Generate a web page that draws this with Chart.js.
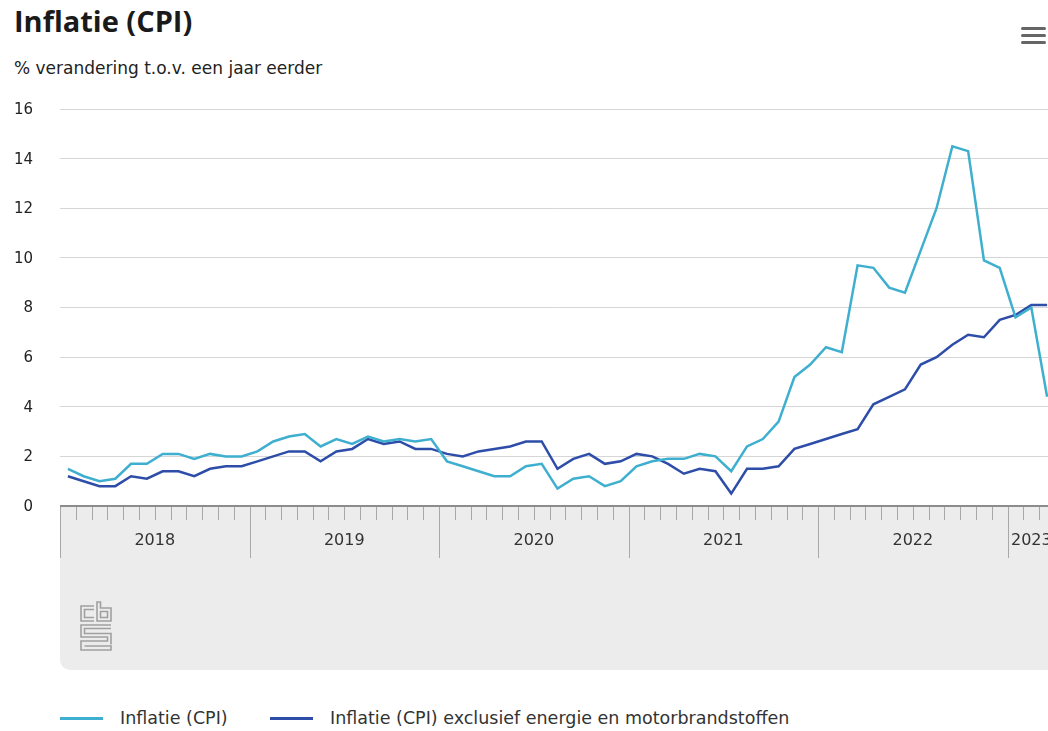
<!DOCTYPE html>
<html>
<head>
<meta charset="utf-8">
<script src="https://cdn.jsdelivr.net/npm/chart.js@4.4.0/dist/chart.umd.min.js"></script>
<style>
  html, body { margin:0; padding:0; background:#fff; width:1048px; height:731px; overflow:hidden; position:relative; font-family:"DejaVu Sans", sans-serif; color:#222; }
  #title { position:absolute; left:14px; top:1px; font-family:"Open Sans", sans-serif; font-size:29px; font-weight:700; line-height:40px; color:#1a1a1a; white-space:nowrap; }
  #subtitle { position:absolute; left:14px; top:56px; font-size:17px; line-height:24px; color:#222; white-space:nowrap; }
  #menu { position:absolute; left:1021px; top:27px; width:25px; height:18px; }
  #menu span { position:absolute; left:0; width:25px; height:3px; background:#666; border-radius:2px; }
  #wrap { position:absolute; left:0; top:95px; width:1062px; height:575px; }
  #logo { position:absolute; left:78px; top:600px; }
  #legend { position:absolute; left:0; top:706px; width:1048px; height:24px; font-size:17.5px; color:#333; }
  .item { position:absolute; top:0; line-height:24px; white-space:nowrap; }
  .swatch { position:absolute; top:11px; height:2.5px; width:43px; }
</style>
</head>
<body>
<div id="title">Inflatie (CPI)</div>
<div id="subtitle">% verandering t.o.v. een jaar eerder</div>
<div id="menu"><span style="top:0"></span><span style="top:7px"></span><span style="top:14px"></span></div>
<div id="wrap"><canvas id="c"></canvas></div>
<svg id="logo" width="36" height="54" viewBox="0 0 36 54">
  <g fill="none" stroke="#a0a0a0" stroke-width="1.6">
    <path d="M16 6 H3 V21 H16 M16 9.5 H6.5 V17.5 H16"/>
    <path d="M19 2 H22.5 V8 H33 V21 H19 Z M22.5 11.5 H29.5 V17.5 H22.5 Z"/>
    <path d="M33 25 H3 V37 H29.5 V41 H3 V50 H33 V46 H6.5 M33 28.5 H6.5 V33.5 H33 V44.5"/>
  </g>
</svg>
<div id="legend">
  <div class="swatch" style="left:60px;background:#3eafcf"></div>
  <div class="item" style="left:120px">Inflatie (CPI)</div>
  <div class="swatch" style="left:270px;background:#2d4da8"></div>
  <div class="item" style="left:330px">Inflatie (CPI) exclusief energie en motorbrandstoffen</div>
</div>
<script>
const months = [
 'jan 2018','feb 2018','mrt 2018','apr 2018','mei 2018','jun 2018','jul 2018','aug 2018','sep 2018','okt 2018','nov 2018','dec 2018',
 'jan 2019','feb 2019','mrt 2019','apr 2019','mei 2019','jun 2019','jul 2019','aug 2019','sep 2019','okt 2019','nov 2019','dec 2019',
 'jan 2020','feb 2020','mrt 2020','apr 2020','mei 2020','jun 2020','jul 2020','aug 2020','sep 2020','okt 2020','nov 2020','dec 2020',
 'jan 2021','feb 2021','mrt 2021','apr 2021','mei 2021','jun 2021','jul 2021','aug 2021','sep 2021','okt 2021','nov 2021','dec 2021',
 'jan 2022','feb 2022','mrt 2022','apr 2022','mei 2022','jun 2022','jul 2022','aug 2022','sep 2022','okt 2022','nov 2022','dec 2022',
 'jan 2023','feb 2023','mrt 2023'
];
const yearLabels = ['2018','2019','2020','2021','2022','2023'];
const yTicks = [0,2,4,6,8,10,12,14,16];

const cpi = [
 1.5,1.2,1.0,1.1,1.7,1.7,2.1,2.1,1.9,2.1,2.0,2.0,
 2.2,2.6,2.8,2.9,2.4,2.7,2.5,2.8,2.6,2.7,2.6,2.7,
 1.8,1.6,1.4,1.2,1.2,1.6,1.7,0.7,1.1,1.2,0.8,1.0,
 1.6,1.8,1.9,1.9,2.1,2.0,1.4,2.4,2.7,3.4,5.2,5.7,
 6.4,6.2,9.7,9.6,8.8,8.6,10.3,12.0,14.5,14.3,9.9,9.6,
 7.6,8.0,4.4
];
const cpiCore = [
 1.2,1.0,0.8,0.8,1.2,1.1,1.4,1.4,1.2,1.5,1.6,1.6,
 1.8,2.0,2.2,2.2,1.8,2.2,2.3,2.7,2.5,2.6,2.3,2.3,
 2.1,2.0,2.2,2.3,2.4,2.6,2.6,1.5,1.9,2.1,1.7,1.8,
 2.1,2.0,1.7,1.3,1.5,1.4,0.5,1.5,1.5,1.6,2.3,2.5,
 2.7,2.9,3.1,4.1,4.4,4.7,5.7,6.0,6.5,6.9,6.8,7.5,
 7.7,8.1,8.1
];

const bandPlugin = {
  id: 'band',
  beforeDraw(chart) {
    const {ctx, chartArea, scales} = chart;
    const x = scales.x;
    const top = chartArea.bottom;
    const bottom = top + 164;
    const left = chartArea.left;
    const right = chart.width;
    const step = x.getPixelForValue(1) - x.getPixelForValue(0);
    ctx.save();
    ctx.fillStyle = '#ececec';
    ctx.beginPath();
    ctx.moveTo(left, top);
    ctx.lineTo(right, top);
    ctx.lineTo(right, bottom);
    ctx.lineTo(left + 10, bottom);
    ctx.arcTo(left, bottom, left, bottom - 10, 10);
    ctx.closePath();
    ctx.fill();
    ctx.strokeStyle = '#a8a8a8';
    ctx.lineWidth = 1;
    for (let i = 0; i <= months.length; i++) {
      const px = Math.round(x.getPixelForValue(Math.min(i, months.length - 1)) + (i < months.length ? -step / 2 : step / 2)) + 0.5;
      const isYear = i % 12 === 0;
      ctx.beginPath();
      ctx.moveTo(px, top);
      ctx.lineTo(px, top + (isYear ? 52 : 14));
      ctx.stroke();
    }
    ctx.strokeStyle = '#8c8c8c';
    ctx.lineWidth = 2;
    ctx.beginPath();
    ctx.moveTo(left, top);
    ctx.lineTo(right, top);
    ctx.stroke();
    ctx.fillStyle = '#333';
    ctx.font = '16px "DejaVu Sans"';
    ctx.textAlign = 'center';
    ctx.textBaseline = 'middle';
    yearLabels.forEach((yr, k) => {
      const first = k * 12;
      const last = Math.min(first + 11, months.length - 1);
      const x0 = x.getPixelForValue(first) - step / 2;
      const x1 = Math.min(x.getPixelForValue(last) + step / 2, chartArea.right);
      ctx.fillText(yr, (x0 + x1) / 2, top + 35);
    });
    ctx.restore();
  }
};

new Chart(document.getElementById('c'), {
  type: 'line',
  data: {
    labels: months,
    datasets: [
      { label: 'Inflatie (CPI)', data: cpi, borderColor: '#3eafcf', backgroundColor: '#3eafcf', borderWidth: 2.5, pointRadius: 0, tension: 0 },
      { label: 'Inflatie (CPI) exclusief energie en motorbrandstoffen', data: cpiCore, borderColor: '#2d4da8', backgroundColor: '#2d4da8', borderWidth: 2.5, pointRadius: 0, tension: 0 }
    ]
  },
  options: {
    responsive: true,
    maintainAspectRatio: false,
    animation: false,
    devicePixelRatio: 1,
    layout: { padding: { top: 14, bottom: 164, left: 14, right: 7 } },
    plugins: { legend: { display: false }, tooltip: { enabled: false } },
    scales: {
      x: { type: 'category', offset: true, display: false },
      y: {
        min: 0, max: 16,
        afterFit(scale) { scale.width = 46; scale.paddingTop = 6; scale.paddingBottom = 6; },
        afterBuildTicks(scale) { scale.ticks = yTicks.map(v => ({ value: v })); },
        ticks: { padding: 27, labelOffset: 1, color: '#222', font: { family: 'DejaVu Sans', size: 15 } },
        grid: { color: (c) => c.tick && c.tick.value === 0 ? 'rgba(0,0,0,0)' : '#d6d6d6', lineWidth: 1, drawTicks: false },
        border: { display: false }
      }
    }
  },
  plugins: [bandPlugin]
});
</script>
</body>
</html>
